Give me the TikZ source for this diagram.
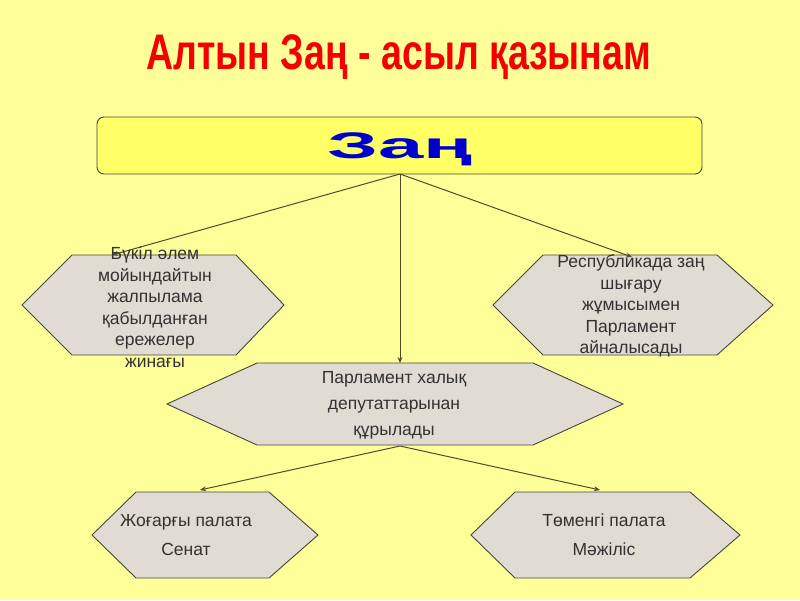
\documentclass[tikz,border=0pt]{standalone}
\usepackage{fontspec}
\setmainfont{Liberation Sans}
\usetikzlibrary{arrows.meta}
\definecolor{bg}{RGB}{255,255,153}
\definecolor{boxfill}{RGB}{255,255,102}
\definecolor{hexfill}{RGB}{224,220,212}
\definecolor{edge}{RGB}{70,70,60}
\definecolor{conn}{RGB}{80,75,40}
\definecolor{titlered}{RGB}{245,0,0}
\definecolor{zanblue}{RGB}{0,0,204}
\definecolor{txt}{RGB}{50,50,50}
\tikzset{
  hexshape/.style={fill=hexfill, draw=edge, line width=0.9pt, line join=miter},
  conline/.style={draw=conn, line width=1pt, -{Stealth[length=6pt,width=5pt]}},
  hextext/.style={text=txt, align=center, font=\fontsize{17.5}{21.5}\selectfont, inner sep=0pt},
}
\begin{document}
\begin{tikzpicture}[x=1pt,y=-1pt]
\fill[bg] (0,0) rectangle (800,600);
\useasboundingbox (0,0) rectangle (800,600);
% title
\node (title) at (399,57) {\color{titlered}\scalebox{0.75}[1]{\fontsize{50}{50}\selectfont\bfseries Алтын Заң - асыл қазынам}};
% top box
\draw[fill=boxfill, draw=edge, line width=0.9pt, rounded corners=7pt] (97,117) rectangle (702,174);
\node (zan) at (400,149) {\color{zanblue}\scalebox{2.2}[1]{\fontsize{37}{37}\selectfont\bfseries Заң}};
\coordinate (zanb) at (400,174);
% hexagons
\draw[hexshape] (22,305) -- (72,255) -- (236,255) -- (284,305) -- (236,355) -- (72,355) -- cycle;
\draw[hexshape] (493,305) -- (543,255) -- (717,255) -- (773,305) -- (717,355) -- (543,355) -- cycle;
\draw[hexshape] (167,404) -- (257,363) -- (533,363) -- (623,404) -- (533,445) -- (257,445) -- cycle;
\draw[hexshape] (92,535) -- (136,492) -- (269,492) -- (318,535) -- (269,578) -- (136,578) -- cycle;
\draw[hexshape] (471,535) -- (515,492) -- (690,492) -- (740,535) -- (690,578) -- (515,578) -- cycle;
\coordinate (lt) at (112,255);
\coordinate (rt) at (632,257);
\coordinate (mt) at (400,363);
\coordinate (mb) at (400,446);
\coordinate (blt) at (200,490);
\coordinate (brt) at (600,490);
% connectors
\draw[conline] (zanb) -- (lt);
\draw[conline] (zanb) -- (rt);
\draw[conline] (zanb) -- (mt);
\draw[conline] (mb) -- (blt);
\draw[conline] (mb) -- (brt);
% texts
\node[hextext] (ltext) at (155,307) {Бүкіл әлем\\мойындайтын\\жалпылама\\қабылданған\\ережелер\\жинағы};
\node[hextext] (rtext) at (631,306) {Республикада заң\\шығару\\жұмысымен\\Парламент\\айналысады};
\node[hextext, font=\fontsize{17.5}{26}\selectfont] (mtext) at (394,405) {Парламент халық\\депутаттарынан\\құрылады};
\node[hextext, font=\fontsize{17.5}{29}\selectfont] (bltext) at (186,535) {Жоғарғы палата\\Сенат};
\node[hextext, font=\fontsize{17.5}{29}\selectfont] (brtext) at (604,535) {Төменгі палата\\Мәжіліс};
\end{tikzpicture}
\end{document}
